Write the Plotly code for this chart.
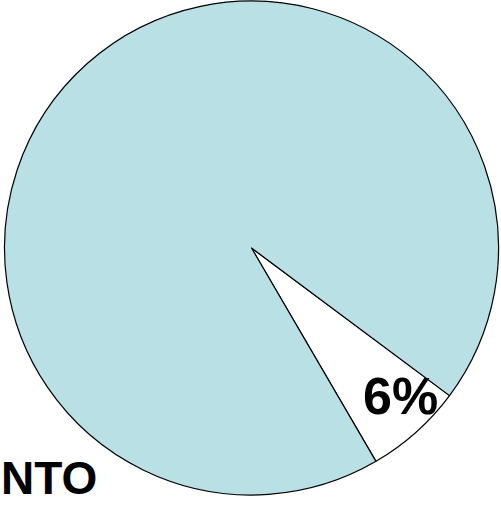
import math
import plotly.graph_objects as go

labels = ["Altro", "Resto"]
values = [6.4, 93.6]
colors = ["#FFFFFF", "#B9E0E4"]
side_title = "NTO"

W, H = 501, 505
cx, cy, R = 251.5, 248.0, 247.0  # pixel geometry of the pie
rotation = 126.7

fig = go.Figure(go.Pie(
    labels=labels,
    values=values,
    sort=False,
    direction="clockwise",
    rotation=rotation,
    marker=dict(colors=colors, line=dict(color="#000000", width=1.2)),
    textposition="none",
    hoverinfo="label+percent",
    showlegend=False,
    domain=dict(x=[(cx - R) / W, (cx + R) / W],
                y=[(H - cy - R) / H, (H - cy + R) / H]),
))

# label for the small slice, placed from the data
total = sum(values)
span = values[0] / total * 360.0
ang = math.radians(rotation + span * 0.35)
rr = 0.85 * R
px = cx + rr * math.sin(ang)
py = cy - rr * math.cos(ang)
pct = round(values[0] / total * 100)

fig.add_annotation(
    x=px / W, y=1 - py / H, xref="paper", yref="paper",
    text=f"<b>{pct}%</b>", showarrow=False,
    font=dict(family="Liberation Sans, Arial", size=52, color="#000000"),
    xanchor="center", yanchor="middle",
)
fig.add_annotation(
    x=0, y=0, xref="paper", yref="paper",
    text=f"<b>{side_title}</b>", showarrow=False,
    font=dict(family="Liberation Sans, Arial", size=46, color="#000000"),
    xanchor="left", yanchor="bottom", borderpad=0,
)

fig.update_layout(
    width=W, height=H,
    margin=dict(l=0, r=0, t=0, b=0),
    paper_bgcolor="#FFFFFF",
    plot_bgcolor="#FFFFFF",
)

fig.write_html("out.html")
